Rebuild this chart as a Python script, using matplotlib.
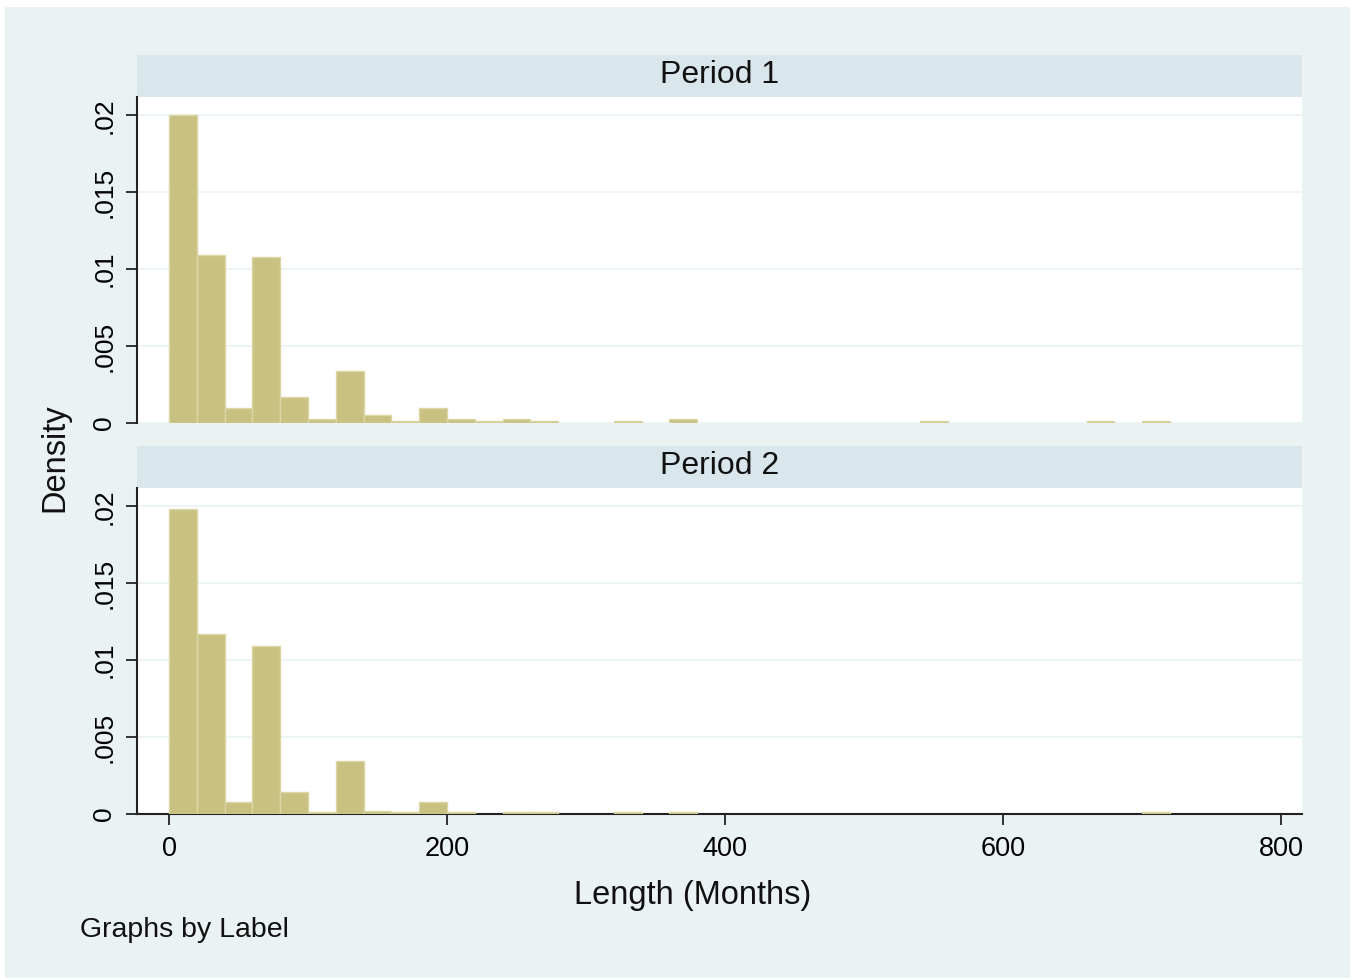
import numpy as np
import matplotlib
matplotlib.use("Agg")
import matplotlib.pyplot as plt
from matplotlib.patches import Rectangle

plt.rcParams['font.family'] = ['Liberation Sans', 'DejaVu Sans']

# Histogram data (bin width 20 months), density per bin
bin_width = 20
bin_starts = np.arange(0, 720, bin_width)

period1 = [0.0200, 0.0109, 0.0010, 0.0108, 0.0017, 0.00024, 0.00336, 0.0005,
           0.00011, 0.00099, 0.00024, 0.00011, 0.00024, 0.00011, 0, 0,
           0.00011, 0, 0.00024, 0, 0, 0, 0, 0, 0, 0, 0, 0.00012,
           0, 0, 0, 0, 0, 0.00012, 0, 0.00012]
period2 = [0.0198, 0.01168, 0.00075, 0.0109, 0.0014, 0.0001, 0.00344, 0.00022,
           0.0001, 0.00075, 0.0001, 0, 0.0001, 0.0001, 0, 0,
           0.0001, 0, 0.0001, 0, 0, 0, 0, 0, 0, 0, 0, 0,
           0, 0, 0, 0, 0, 0, 0, 0.00015]

panel_titles = ["Period 1", "Period 2"]
y_ticks = [0, 0.005, 0.01, 0.015, 0.02]
y_ticklabels = ["0", ".005", ".01", ".015", ".02"]
x_ticks = [0, 200, 400, 600, 800]

bg = "#EAF2F3"
strip_col = "#D9E6EB"
bar_col = "#C9C181"
bar_edge = "#DCD6A6"

fig = plt.figure(figsize=(13.53, 9.8), dpi=100)
fig.patch.set_facecolor("white")
fig.patches.append(Rectangle((0.0037, 0.002), 0.994, 0.9909, transform=fig.transFigure,
                             facecolor=bg, edgecolor="none", zorder=-10))

left, width = 0.1013, 0.861
panels = [(0.5684, 0.3327), (0.1694, 0.3327)]

for i, (vals, title) in enumerate(zip([period1, period2], panel_titles)):
    bottom, height = panels[i]
    ax = fig.add_axes([left, bottom, width, height])
    ax.set_facecolor("white")
    vals = np.array(vals)
    mask = vals > 0
    ax.bar(bin_starts[mask], vals[mask], width=bin_width, align="edge",
           color=bar_col, edgecolor=bar_edge, linewidth=1.0, zorder=3)
    ax.set_xlim(-23, 815)
    ax.set_ylim(0, 0.0212)
    ax.set_yticks(y_ticks)
    ax.set_yticklabels(y_ticklabels, rotation=90, va="center", fontsize=19)
    ax.yaxis.grid(True, color=bg, linewidth=1.2, zorder=0)
    ax.set_axisbelow(True)
    for s in ["top", "right"]:
        ax.spines[s].set_visible(False)
    ax.spines["left"].set_linewidth(1.5)
    ax.spines["left"].set_color("#222222")
    ax.tick_params(axis="y", length=8, width=1.3, pad=7, color="#222222")

    if i == 0:
        ax.spines["bottom"].set_visible(False)
        ax.set_xticks([])
    else:
        ax.spines["bottom"].set_linewidth(1.5)
        ax.spines["bottom"].set_color("#222222")
        ax.set_xticks(x_ticks)
        ax.set_xticklabels([str(t) for t in x_ticks], fontsize=19.5)
        ax.tick_params(axis="x", length=8, width=1.3, pad=8, color="#222222")

    # strip title
    strip_bottom = bottom + height
    fig.patches.append(Rectangle((left, strip_bottom), width, 0.0429,
                                 transform=fig.transFigure, facecolor=strip_col,
                                 edgecolor="none", zorder=-5))
    fig.text(left + width / 2, strip_bottom + 0.0225, title, ha="center",
             va="center", fontsize=23, color="#111111")

fig.text(0.0407, 0.5327, "Density", rotation=90, ha="center", va="center",
         fontsize=23.5, color="#111111")
fig.text(0.512, 0.0858, "Length (Months)", ha="center", va="center",
         fontsize=23.5, color="#111111")
fig.text(0.0591, 0.051, "Graphs by Label", ha="left", va="center",
         fontsize=20.5, color="#111111")

fig.savefig("out.png", dpi=100, facecolor=fig.get_facecolor())
